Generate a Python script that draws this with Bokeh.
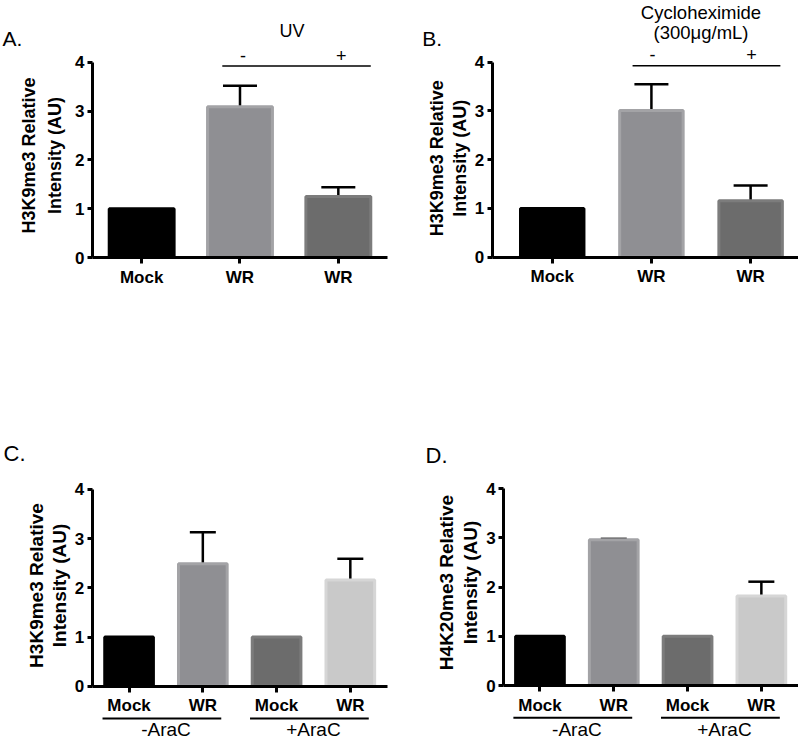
import numpy as np
from bokeh.plotting import figure
from bokeh.models import (ColumnDataSource, Range1d, FixedTicker, Whisker, TeeHead,
                          Label, PolyAnnotation)
from bokeh.layouts import column, row
from bokeh.embed import file_html
from bokeh.resources import INLINE

# ---------------- data ----------------
a_labels = ["Mock", "WR", "WR"]
a_values = [1.0, 3.09, 1.25]
a_errors = [0.0, 0.43, 0.19]
a_header = ["UV"]
a_signs = ["-", "+"]

b_labels = ["Mock", "WR", "WR"]
b_values = [1.0, 3.01, 1.16]
b_errors = [0.0, 0.54, 0.31]
b_header = ["Cycloheximide", "(300\u03bcg/mL)"]
b_signs = ["-", "+"]

c_labels = ["Mock", "WR", "Mock", "WR"]
c_values = [1.0, 2.49, 1.0, 2.16]
c_errors = [0.0, 0.64, 0.0, 0.43]

d_labels = ["Mock", "WR", "Mock", "WR"]
d_values = [1.0, 2.96, 1.0, 1.82]
d_errors = [0.0, 0.02, 0.0, 0.29]

cd_groups = ["-AraC", "+AraC"]
cd_group_members = [[0, 1], [2, 3]]

y_ticks = [0, 1, 2, 3, 4]
y_titles_h3 = ["H3K9me3 Relative", "Intensity (AU)"]
y_titles_h4 = ["H4K20me3 Relative", "Intensity (AU)"]
panel_letters = ["A.", "B.", "C.", "D."]

# ---------------- styles ----------------
FONT = "Liberation Sans"
FILL3 = ["#000000", "#8f8f93", "#6c6c6c"]
EDGE3 = ["#000000", "#a3a3a6", "#7c7c7c"]
FILL4 = ["#000000", "#8f8f93", "#6c6c6c", "#c9c9c9"]
EDGE4 = ["#000000", "#a3a3a6", "#7c7c7c", "#d6d6d6"]


def make_panel(labels, vals, errs, fills, edges, cfg):
    w, h = cfg["w"], cfg["h"]
    ox, oy, sx, sy = cfg["ox"], cfg["oy"], cfg["sx"], cfg["sy"]
    x0 = cfg["x0"]
    xs = x0 - ox / sx
    xe = xs + w / sx
    ys = -(h - oy) / sy
    ye = ys + h / sy
    x1 = cfg["x1"] if cfg["x1"] is not None else xe
    idx = list(range(len(labels)))
    p = figure(width=w, height=h, output_backend="svg", toolbar_location=None,
               x_range=Range1d(xs, xe), y_range=Range1d(ys, ye), min_border=0)
    p.outline_line_color = None
    p.grid.visible = False
    p.background_fill_color = "white"
    p.border_fill_color = "white"

    src = ColumnDataSource(dict(x=idx, top=vals, fill=fills, edge=edges))
    p.vbar(x="x", top="top", bottom=0, width=cfg["bw"], fill_color="fill",
           line_color="edge", line_width=3, source=src)

    ex = [i for i in idx if errs[i] > 0]
    esrc = ColumnDataSource(dict(x=ex, lower=[vals[i] for i in ex],
                                 upper=[vals[i] + errs[i] for i in ex]))
    p.add_layout(Whisker(source=esrc, base="x", lower="lower", upper="upper",
                         dimension="height", line_width=2.5, line_color="black",
                         upper_head=TeeHead(size=cfg["cap"], line_width=2.5,
                                            line_color="black"),
                         lower_head=None))

    for ax in (p.xaxis[0], p.yaxis[0]):
        ax.axis_line_width = 3
        ax.axis_line_color = "black"
        ax.major_tick_line_width = 3
        ax.major_tick_line_color = "black"
        ax.major_tick_in = 0
        ax.minor_tick_line_color = None
        ax.major_label_text_font = FONT
        ax.major_label_text_font_style = "bold"
        ax.major_label_text_font_size = "17px"
        ax.major_label_text_color = "black"
    p.xaxis.ticker = FixedTicker(ticks=idx)
    p.xaxis.major_label_overrides = {i: labels[i] for i in idx}
    p.xaxis.major_tick_out = 6
    p.xaxis.major_label_standoff = 4
    p.xaxis.fixed_location = 0
    p.xaxis.bounds = (x0, x1)
    p.yaxis.ticker = FixedTicker(ticks=y_ticks)
    p.yaxis.major_tick_out = 5
    p.yaxis.major_label_standoff = 3
    p.yaxis.fixed_location = x0
    p.yaxis.bounds = (y_ticks[0], y_ticks[-1])

    base_y = h - oy  # screen y of the x axis (measured from bottom)

    def lab(text, x, dy, x_units="screen", **kw):
        xx = ox + x if x_units == "screen" else x
        opts = dict(text_align="center", text_baseline="middle",
                    text_font=FONT, text_font_size="18px", text_color="black")
        opts.update(kw)
        p.add_layout(Label(x=xx, y=base_y + dy, x_units=x_units, y_units="screen",
                           text=text, **opts))

    def hline(x_a, x_b, dy, lw):
        p.add_layout(PolyAnnotation(xs=[x_a, x_b], ys=[base_y + dy, base_y + dy],
                                    xs_units="data", ys_units="screen",
                                    fill_color=None, fill_alpha=0,
                                    line_color="black", line_alpha=1.0,
                                    line_width=lw))

    # y-axis title (two lines)
    for t, dx in zip(cfg["ytitle"], cfg["ytx"]):
        lab(t, dx, cfg["yty"], angle=np.pi / 2,
            text_font_style="bold", text_font_size=cfg["ytfs"])
    # panel letter
    lab(cfg["letter"], cfg["letter_xy"][0], cfg["letter_xy"][1],
        text_align="left", text_font_size=cfg["letter_fs"])
    return p, idx, lab, hline


# ---------------- panel A ----------------
cfgA = dict(w=392, h=370, ox=92, oy=257, sx=98.33, sy=48.8, x0=-0.5, x1=2.5,
            bw=0.66, cap=34,
            ytitle=y_titles_h3, ytx=[-63.7, -38], yty=102, ytfs="18px",
            letter=panel_letters[0], letter_xy=(-90, 219.5), letter_fs="21px")
pA, iA, labA, hlA = make_panel(a_labels, a_values, a_errors, FILL3, EDGE3, cfgA)
labA(a_header[0], (iA[1] + iA[2]) / 2 + 0.03, 227, x_units="data")
for s, i in zip(a_signs, iA[1:]):
    labA(s, i + 0.03, 202, x_units="data")
hlA(iA[1] - 0.18, iA[2] + 0.33, 191.5, 1.5)

# ---------------- panel B ----------------
cfgB = dict(w=406, h=370, ox=99.7, oy=256.7, sx=99.2, sy=48.75, x0=-0.605, x1=None,
            bw=0.64, cap=34,
            ytitle=y_titles_h3, ytx=[-55.2, -32.7], yty=99, ytfs="18px",
            letter=panel_letters[1], letter_xy=(-70, 218.4), letter_fs="21px")
pB, iB, labB, hlB = make_panel(b_labels, b_values, b_errors, FILL3, EDGE3, cfgB)
for t, dy in zip(b_header, [245.2, 224.7]):
    labB(t, (iB[1] + iB[2]) / 2, dy, x_units="data", text_font_size="18.5px")
for s, i in zip(b_signs, iB[1:]):
    labB(s, i + 0.01, 202.7, x_units="data")
hlB(iB[1] - 0.19, iB[2] + 0.30, 191.4, 1.5)


def add_groups(idx, lab, hline, dy_line, dy_text):
    for g, members in zip(cd_groups, cd_group_members):
        hline(idx[members[0]] - 0.36, idx[members[-1]] + 0.25, dy_line, 2)
        xm = (idx[members[0]] + idx[members[-1]]) / 2
        lab(g, xm, dy_text, x_units="data", text_font_size="19px")


# ---------------- panel C ----------------
cfgC = dict(w=392, h=370, ox=91.7, oy=315.7, sx=73.75, sy=49.2, x0=-0.5, x1=3.5,
            bw=0.66, cap=26,
            ytitle=y_titles_h3, ytx=[-56, -32.7], yty=100.7, ytfs="19px",
            letter=panel_letters[2], letter_xy=(-88.7, 232.4), letter_fs="22px")
pC, iC, labC, hlC = make_panel(c_labels, c_values, c_errors, FILL4, EDGE4, cfgC)
add_groups(iC, labC, hlC, -32.3, -43.3)

# ---------------- panel D ----------------
cfgD = dict(w=406, h=370, ox=111.3, oy=315, sx=73.8, sy=49.2, x0=-0.49, x1=None,
            bw=0.66, cap=26,
            ytitle=y_titles_h4, ytx=[-57.8, -33.3], yty=103, ytfs="19px",
            letter=panel_letters[3], letter_xy=(-78.3, 230), letter_fs="22px")
pD, iD, labD, hlD = make_panel(d_labels, d_values, d_errors, FILL4, EDGE4, cfgD)
add_groups(iD, labD, hlD, -32.3, -44)

layout = column(row(pA, pB), row(pC, pD))
open("out.html", "w").write(file_html(layout, INLINE))
